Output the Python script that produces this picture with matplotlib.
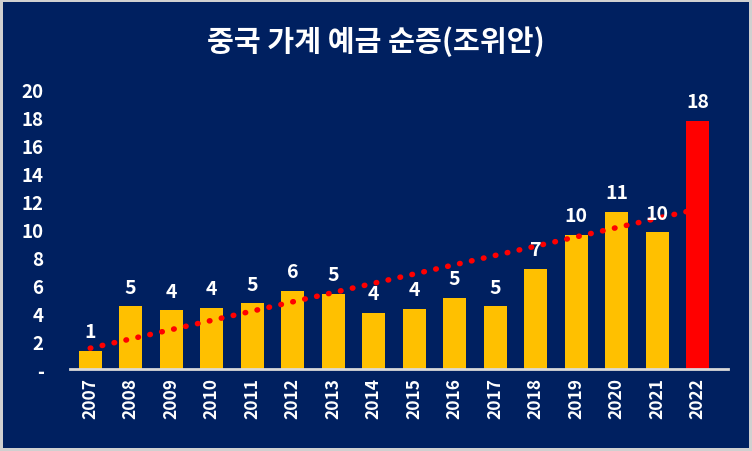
import numpy as np
import matplotlib.pyplot as plt

plt.rcParams['font.family'] = ['Noto Sans CJK KR', 'DejaVu Sans']

## data

years = ['2007', '2008', '2009', '2010', '2011', '2012', '2013', '2014',
         '2015', '2016', '2017', '2018', '2019', '2020', '2021', '2022']
values = [1.3, 4.5, 4.2, 4.4, 4.7, 5.6, 5.4, 4.0,
          4.3, 5.1, 4.5, 7.2, 9.6, 11.25, 9.8, 17.8]
labels = ['1', '5', '4', '4', '5', '6', '5', '4',
          '4', '5', '5', '7', '10', '11', '10', '18']
yticks = [0, 2, 4, 6, 8, 10, 12, 14, 16, 18, 20]
ytick_labels = ['-', '2', '4', '6', '8', '10', '12', '14', '16', '18', '20']
title = '중국 가계 예금 순증(조위안)'

bg = '#002060'

fig = plt.figure(figsize=(7.52, 4.52), dpi=100, facecolor=bg,
                 edgecolor='#d0d0d0', linewidth=3)
ax = fig.add_axes([70/752, 1-370/452, (728-70)/752, (370-91)/452])
ax.set_facecolor(bg)

x = np.arange(len(years))
colors = ['#FFC000'] * (len(years) - 1) + ['#FF0000']
bars = ax.bar(x, values, width=0.57, color=colors, zorder=2)

for b, lab in zip(bars, labels):
    ax.annotate(lab, (b.get_x() + b.get_width()/2, b.get_height()),
                xytext=(0, 7), textcoords='offset points',
                ha='center', va='bottom', color='white',
                fontsize=14, fontweight='bold', zorder=4)

# linear trend
k, c = np.polyfit(x, values, 1)
ax.plot(x, k*x + c, color='#FF0000', linestyle=(0, (0.1, 2.1)),
        linewidth=4, dash_capstyle='round', zorder=3)

ax.set_xlim(-0.5, 15.75)
ax.set_ylim(0, 20)
ax.set_xticks(x)
ax.set_xticklabels(years, rotation=90, color='white', fontsize=12.5,
                   fontweight='bold')
ax.set_yticks(yticks)
ax.set_yticklabels(ytick_labels, color='white', fontsize=13.5,
                   fontweight='bold')
ax.tick_params(length=0, axis='x', pad=6)
ax.tick_params(length=0, axis='y', pad=19)
for lbl in ax.get_yticklabels():
    lbl.set_horizontalalignment('right')

for s in ['top', 'right', 'left']:
    ax.spines[s].set_visible(False)
ax.spines['bottom'].set_color('#d9d9d9')
ax.spines['bottom'].set_linewidth(2)

fig.text(0.5, 1-42/452, title, ha='center', va='center', color='white',
         fontsize=21, fontweight='bold')

fig.savefig('out.png', dpi=100, facecolor=bg, edgecolor='#d0d0d0')
